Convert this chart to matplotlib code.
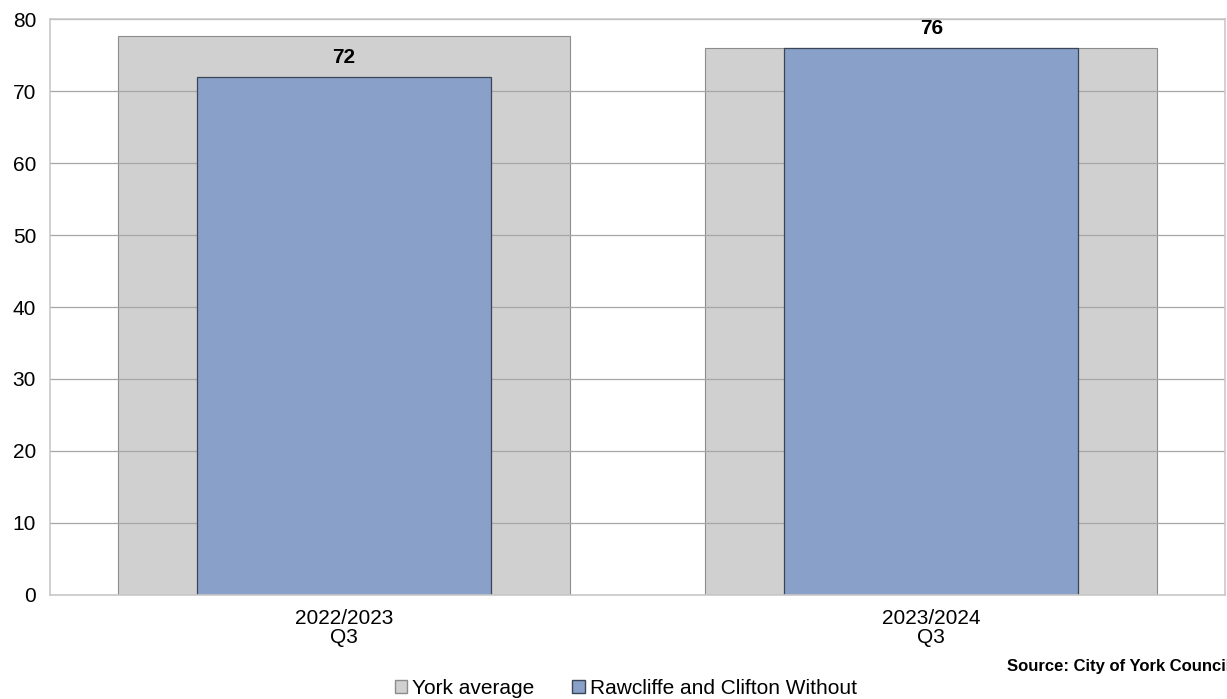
import matplotlib
matplotlib.use("Agg")
import matplotlib.pyplot as plt
from matplotlib.patches import Patch
import numpy as np

plt.rcParams["font.family"] = ["Liberation Sans", "DejaVu Sans"]

# data
categories = ["2022/2023\nQ3", "2023/2024\nQ3"]
york_average = [77.6, 76.0]
rawcliffe = [72, 76]
y_ticks = [0, 10, 20, 30, 40, 50, 60, 70, 80]

grey = "#D0D0D0"
blue = "#89A0C8"

fig = plt.figure(figsize=(12.27, 6.99), dpi=100)
ax = fig.add_axes([0.0407, 0.1488, 0.9577, 0.824])

x = np.arange(len(categories))
ax.bar(x, york_average, width=0.77, color=grey, edgecolor="#8C8C8C", linewidth=0.8, zorder=1)
ax.bar(x, rawcliffe, width=0.5, color=blue, edgecolor="#3A4558", linewidth=0.9, zorder=3)

for xi, v in zip(x, rawcliffe):
    ax.annotate(f"{v}", (xi, v), xytext=(0, 14), textcoords="offset points",
                ha="center", va="center", fontsize=15, fontweight="bold")

ax.set_xlim(-0.5, len(categories) - 0.5)
ax.set_ylim(0, 80)
ax.set_yticks(y_ticks)
ax.set_xticks(x)
ax.set_xticklabels(categories, fontsize=15, linespacing=1.0)
ax.tick_params(axis="y", labelsize=15, length=0, pad=10)
ax.tick_params(axis="x", length=0, pad=10)
ax.yaxis.grid(True, color="#A6A6A6", linewidth=0.9, zorder=2)
ax.set_axisbelow(False)
for s in ax.spines.values():
    s.set_color("#C8C8C8")
    s.set_linewidth(1.2)
    s.set_zorder(4)

# the source note runs off the right edge in the original too
fig.text(1007 / 1227, 1 - 666 / 699, "Source: City of York Council", fontsize=12,
         fontweight="bold", ha="left", va="center")

handles = [Patch(facecolor=grey, edgecolor="#8C8C8C", label="York average"),
           Patch(facecolor=blue, edgecolor="#3A4558", label="Rawcliffe and Clifton Without")]
fig.legend(handles=handles, loc="center", bbox_to_anchor=(0.51, 1 - 688 / 699), ncol=2,
           frameon=False, fontsize=15, handlelength=0.6, handleheight=0.6,
           handletextpad=0.25, columnspacing=1.8)

fig.savefig("out.png", dpi=100)
